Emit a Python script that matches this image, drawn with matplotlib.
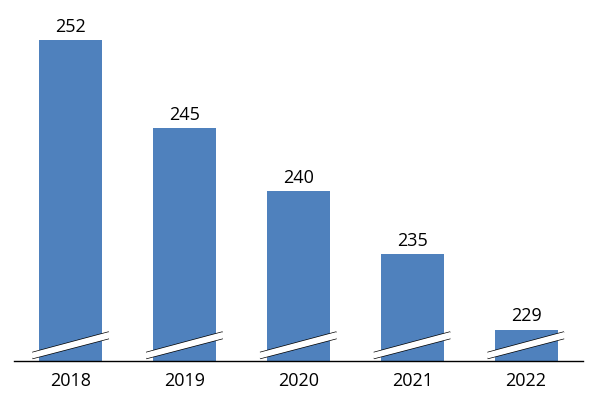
import matplotlib
matplotlib.use("Agg")
import matplotlib.pyplot as plt
from matplotlib.patches import Polygon

years = ["2018", "2019", "2020", "2021", "2022"]
values = [252, 245, 240, 235, 229]

ymin, ymax = 226.5, 253.6
fig = plt.figure(figsize=(5.93, 3.99), dpi=100)
ax = fig.add_axes([14/593, (399-361)/399, 569/593, (361-20)/399])
ax.set_xlim(-0.5, 4.5)
ax.set_ylim(ymin, ymax)

color = "#4F81BD"
x = list(range(len(years)))
ax.bar(x, [v - ymin for v in values], bottom=ymin, width=0.555, color=color, zorder=2)

for xi, v in zip(x, values):
    ax.annotate(str(v), (xi, v), xytext=(0, 3), textcoords="offset points",
                ha="center", va="bottom", fontsize=13, family="Open Sans", color="black")

inv = ax.transData.inverted()
for xi in x:
    base = ax.transData.transform((xi, ymin))
    def pt(dx, dy):
        return (base[0] + dx, base[1] + dy)
    lo0, lo1 = pt(-38.5, 2.5), pt(38, 22.5)
    up0, up1 = pt(-38.5, 8.5), pt(38, 29)
    poly = Polygon([lo0, lo1, up1, up0], closed=True, transform=None,
                   facecolor="white", edgecolor="none", zorder=3)
    fig.patches.append(poly)
    for a, b in [(lo0, lo1), (up0, up1)]:
        pa, pb = inv.transform(a), inv.transform(b)
        ax.plot([pa[0], pb[0]], [pa[1], pb[1]], color="black", lw=1.0, zorder=4,
                solid_capstyle="butt", clip_on=False)

for s in ["top", "right", "left"]:
    ax.spines[s].set_visible(False)
ax.spines["bottom"].set_color("black")
ax.spines["bottom"].set_linewidth(1.0)
ax.set_yticks([])
ax.set_xticks(x)
ax.set_xticklabels(years, fontsize=13, family="Open Sans")
ax.tick_params(axis="x", length=0, pad=8)

fig.savefig("out.png", dpi=100)
